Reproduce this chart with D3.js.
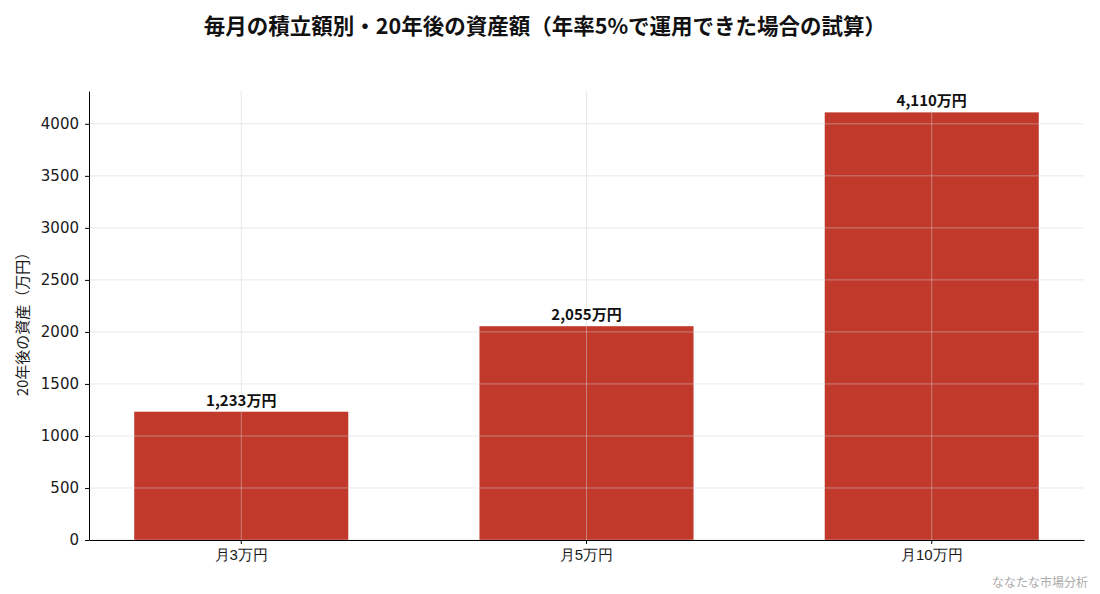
<!DOCTYPE html>
<html lang="ja">
<head>
<meta charset="UTF-8">
<title>毎月の積立額別・20年後の資産額</title>
<script src="https://d3js.org/d3.v7.min.js"></script>
<style>
  body { margin: 0; background: #fff; }
  svg { font-family: "Noto Sans CJK JP", "Noto Sans", sans-serif; }
  .grid line { stroke: #d0d0d0; stroke-opacity: 0.6; stroke-width: 0.8px; }
  .axis path, .axis line { stroke: #000; stroke-width: 1px; }
  .axis text { fill: #1a1a1a; font-size: 15px; }
  .axis.y text { font-family: "DejaVu Sans", "Noto Sans CJK JP", sans-serif; font-size: 15px; }
</style>
</head>
<body>
<div id="chart"></div>
<script>
// data
const categories = ["月3万円", "月5万円", "月10万円"];
const values = [1233, 2055, 4110];
const valueLabels = ["1,233万円", "2,055万円", "4,110万円"];
const yTicks = [0, 500, 1000, 1500, 2000, 2500, 3000, 3500, 4000];

const width = 1100, height = 594;
const margin = { top: 91, right: 16, bottom: 54, left: 89 };
const innerW = width - margin.left - margin.right;
const innerH = height - margin.top - margin.bottom;

const svg = d3.select("#chart").append("svg")
  .attr("width", width)
  .attr("height", height);

const g = svg.append("g")
  .attr("transform", `translate(${margin.left},${margin.top})`);

const x = d3.scaleBand()
  .domain(categories)
  .range([0, innerW])
  .paddingInner(0.38)
  .paddingOuter(0.131);

const y = d3.scaleLinear()
  .domain([0, d3.max(values) * 1.05])
  .range([innerH, 0]);

// bars
g.selectAll("rect.bar")
  .data(values)
  .enter()
  .append("rect")
  .attr("class", "bar")
  .attr("x", (d, i) => x(categories[i]))
  .attr("y", d => y(d))
  .attr("width", x.bandwidth())
  .attr("height", d => innerH - y(d))
  .attr("fill", "#c0392b");

// grid on top of bars
const grid = g.append("g").attr("class", "grid");
grid.selectAll("line.h")
  .data(yTicks)
  .enter()
  .append("line")
  .attr("x1", 0).attr("x2", innerW)
  .attr("y1", d => y(d)).attr("y2", d => y(d));
grid.selectAll("line.v")
  .data(categories)
  .enter()
  .append("line")
  .attr("x1", d => x(d) + x.bandwidth() / 2)
  .attr("x2", d => x(d) + x.bandwidth() / 2)
  .attr("y1", 0).attr("y2", innerH);

// axes
g.append("g")
  .attr("class", "axis x")
  .attr("transform", `translate(0,${innerH})`)
  .call(d3.axisBottom(x).tickSize(4).tickPadding(5).tickSizeOuter(0));

g.append("g")
  .attr("class", "axis y")
  .call(d3.axisLeft(y).tickValues(yTicks).tickFormat(d3.format("d"))
    .tickSize(4).tickPadding(6).tickSizeOuter(0));

// value labels
g.selectAll("text.val")
  .data(values)
  .enter()
  .append("text")
  .attr("class", "val")
  .attr("x", (d, i) => x(categories[i]) + x.bandwidth() / 2)
  .attr("y", d => y(d) - 6)
  .attr("text-anchor", "middle")
  .attr("font-size", 15)
  .attr("font-weight", "bold")
  .attr("fill", "#111")
  .text((d, i) => valueLabels[i]);

// y label
svg.append("text")
  .attr("transform", `translate(28,${margin.top + innerH / 2 + 5}) rotate(-90)`)
  .attr("text-anchor", "middle")
  .attr("font-size", 15)
  .attr("fill", "#1a1a1a")
  .text("20年後の資産（万円）");

// title
svg.append("text")
  .attr("x", 545)
  .attr("y", 34)
  .attr("text-anchor", "middle")
  .attr("font-size", 21.5)
  .attr("font-weight", "bold")
  .attr("fill", "#111")
  .text("毎月の積立額別・20年後の資産額（年率5%で運用できた場合の試算）");

// watermark
svg.append("text")
  .attr("x", 1088)
  .attr("y", 587)
  .attr("text-anchor", "end")
  .attr("font-size", 12)
  .attr("fill", "#aaa")
  .text("ななたな市場分析");
</script>
</body>
</html>
